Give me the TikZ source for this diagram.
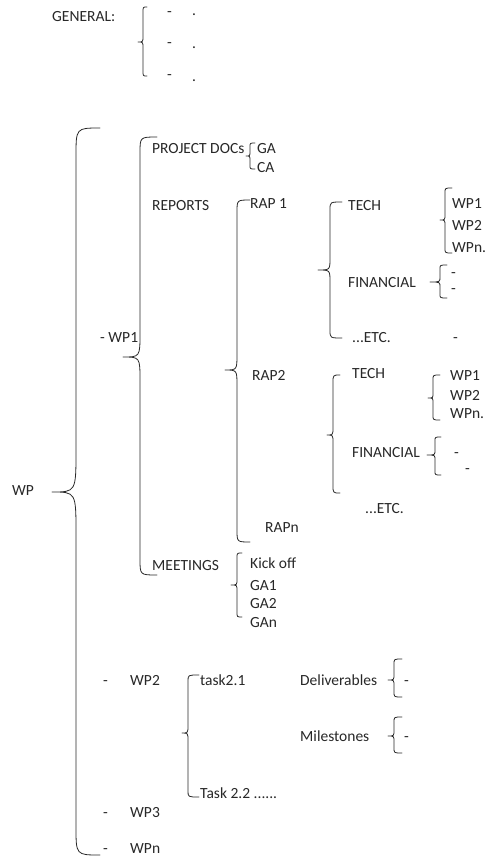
\documentclass[tikz,border=0pt]{standalone}
\usepackage{fontspec}
\setmainfont{Carlito}
\definecolor{ink}{RGB}{40,40,40}
\newcommand\mybrace[8]{%
  \draw[brc] (#1,#4) .. controls (#2,#4) .. (#2,#4+#7) -- (#2,#5-#8)
    .. controls (#2,#5) .. (#3,#5) .. controls (#2,#5) .. (#2,#5+#8)
    -- (#2,#6-#7) .. controls (#2,#6) .. (#1,#6);}
\begin{document}
\begin{tikzpicture}[x=1pt,y=-1pt,
  t/.style={anchor=base west,inner sep=0pt,text=ink,font=\fontsize{15.5}{18}\selectfont},
  brc/.style={draw=ink,line width=0.8pt,line cap=round,line join=round}]
\useasboundingbox[fill=white] (0,0) rectangle (485,857);
% GENERAL
\node[t] (gen) at (52,21) {GENERAL:};
\mybrace{147}{143}{138}{7}{42}{76}{5}{6}
\node[t] (g1) at (167,16) {-};
\node[t] (g2) at (167,47) {-};
\node[t] (g3) at (167,79) {-};
\node[t] (g1d) at (192,15) {.};
\node[t] (g2d) at (192,48) {.};
\node[t] (g3d) at (192,81) {.};
% WP
\node[t] (wp) at (12,495) {WP};
\mybrace{100}{76}{52}{128}{492}{855}{28}{42}
% WP1
\node[t] (wp1) at (100,342) {- WP1};
\mybrace{157}{140}{123}{137}{357}{575}{16}{24}
\node[t] (pd) at (152,153) {PROJECT DOCs};
\mybrace{255}{250}{246}{143}{156}{169}{4}{5}
\node[t] (ga) at (257,153) {GA};
\node[t] (ca) at (257,172) {CA};
\node[t] (rep) at (152,210) {REPORTS};
\mybrace{250}{237}{225}{200}{370}{542}{12}{16}
\node[t] (rap1) at (250,208) {RAP 1};
% RAP1 content
\mybrace{342}{330}{318}{202}{270}{338}{8}{12}
\node[t] (tech1) at (348,210) {TECH};
\mybrace{452}{445}{440}{188}{220}{253}{5}{6}
\node[t] (t1a) at (452,208) {WP1};
\node[t] (t1b) at (452,230) {WP2};
\node[t] (t1c) at (452,252) {WPn.};
\node[t] (fin1) at (348,287) {FINANCIAL};
\mybrace{447}{440}{430}{265}{282}{298}{4}{5}
\node[t] (f1a) at (451,277) {-};
\node[t] (f1b) at (451,293) {-};
\node[t] (etc1) at (352,342) {...ETC.};
\node[t] (etc1d) at (453,342) {-};
% RAP2
\node[t] (rap2) at (252,380) {RAP2};
\mybrace{340}{333}{327}{375}{435}{493}{8}{8}
\node[t] (tech2) at (352,378) {TECH};
\mybrace{440}{433}{428}{375}{398}{420}{5}{5}
\node[t] (t2a) at (450,380) {WP1};
\node[t] (t2b) at (450,400) {WP2};
\node[t] (t2c) at (450,418) {WPn.};
\node[t] (fin2) at (352,457) {FINANCIAL};
\mybrace{441}{435}{427}{437}{455}{475}{4}{5}
\node[t] (f2a) at (454,457) {-};
\node[t] (f2b) at (465,473) {-};
\node[t] (etc2) at (365,513) {...ETC.};
\node[t] (rapn) at (265,532) {RAPn};
% MEETINGS
\node[t] (meet) at (152,570) {MEETINGS};
\mybrace{242}{237}{231}{553}{585}{617}{5}{6}
\node[t] (ko) at (250,568) {Kick off};
\node[t] (ga1) at (250,590) {GA1};
\node[t] (ga2) at (250,608) {GA2};
\node[t] (gan) at (250,627) {GAn};
% WP2
\node[t] (d2) at (103,685) {-};
\node[t] (wp2) at (130,685) {WP2};
\mybrace{199}{188}{182}{675}{733}{797}{6}{8}
\node[t] (t21) at (200,685) {task2.1};
\node[t] (t22) at (200,798) {Task 2.2 ......};
\node[t] (del) at (300,685) {Deliverables};
\mybrace{402}{394}{388}{659}{680}{697}{5}{6}
\node[t] (deld) at (404,685) {-};
\node[t] (mil) at (300,741) {Milestones};
\mybrace{402}{394}{388}{717}{736}{753}{5}{6}
\node[t] (mild) at (404,741) {-};
% WP3, WPn
\node[t] (d3) at (103,817) {-};
\node[t] (wp3) at (130,817) {WP3};
\node[t] (dn) at (103,853) {-};
\node[t] (wpn) at (130,853) {WPn};
\end{tikzpicture}
\end{document}
